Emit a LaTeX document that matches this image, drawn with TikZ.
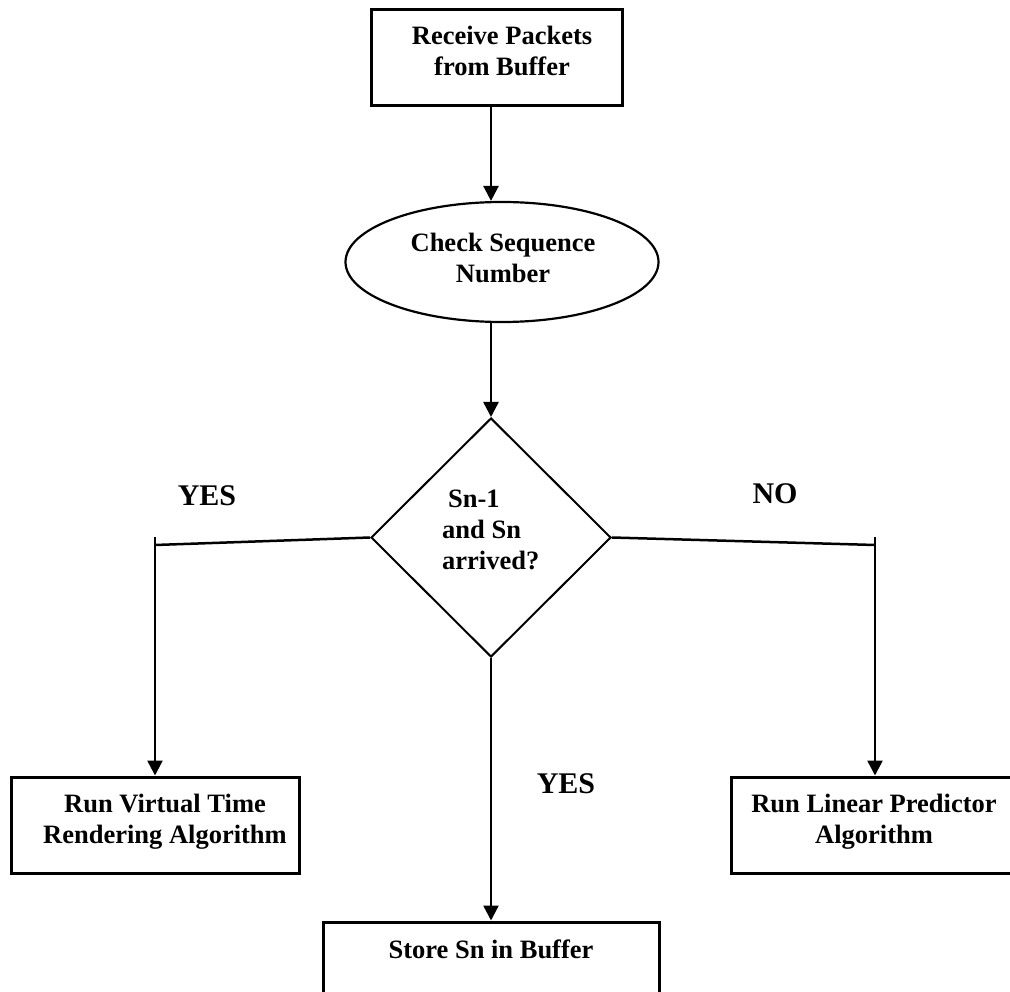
\documentclass[tikz,border=0pt]{standalone}
\usepackage{fontspec}
\setmainfont{Liberation Serif}
\usetikzlibrary{shapes.geometric,arrows.meta}

\tikzset{
  box/.style={draw, line width=3pt, rectangle, inner sep=0pt},
  oval/.style={draw, line width=2.2pt, ellipse, inner sep=0pt},
  decision/.style={draw, line width=2pt, diamond, inner sep=0pt},
  txt/.style={font=\bfseries\fontsize{26.5}{31}\selectfont, align=center, inner sep=0pt},
  lbl/.style={font=\bfseries\fontsize{30}{34}\selectfont, inner sep=0pt, anchor=base},
  link/.style={line width=2.5pt},
  arrow/.style={line width=2.5pt, -{Triangle[length=15pt,width=15pt]}},
}

\begin{document}
\begin{tikzpicture}[x=1pt, y=-1pt]
  \clip (0,0) rectangle (1010,992);
  \fill[white] (0,0) rectangle (1010,992);

  % shapes
  \node[box, minimum width=251pt, minimum height=96pt] (recv) at (496.5,58) {};
  \node[oval, minimum width=313pt, minimum height=120pt] (check) at (502,262) {};
  \node[decision, minimum width=240pt, minimum height=239pt] (dec) at (491,537.5) {};
  \node[box, minimum width=288pt, minimum height=96pt] (vtr) at (155,825) {};
  \node[box, minimum width=288pt, minimum height=96pt] (lin) at (875,825) {};
  \node[box, minimum width=336pt, minimum height=96pt] (store) at (491,970) {};

  % texts
  \node[txt] (recvT) at (502,51) {Receive Packets\\from Buffer};
  \node[txt] (checkT) at (503,258) {Check Sequence\\Number};
  \node[txt, align=left, anchor=west] (decT) at (442,530) {\hspace{6pt}Sn-1\\and Sn\\arrived?};
  \node[txt] (vtrT) at (165,822) {Run Virtual Time\\Rendering Algorithm};
  \node[txt] (linT) at (874,822) {Run Linear Predictor\\Algorithm};
  \node[txt, anchor=base] (storeT) at (491,958) {Store Sn in Buffer};

  % branch labels
  \node[lbl] (yesL) at (207,505) {YES};
  \node[lbl] (noR) at (775,503) {NO};
  \node[lbl] (yesB) at (566,793) {YES};

  % branch corners
  \coordinate (lk) at (155,545);
  \coordinate (lt) at (155,537);
  \coordinate (rk) at (875,545);
  \coordinate (rt) at (875,537);

  % connectors
  \draw[arrow] (recv.south -| dec.north) -- (check.north -| dec.north);
  \draw[arrow] (check.south -| dec.north) -- (dec.north);
  \draw[link] (dec.west) -- (lk);
  \draw[arrow] (lt) -- (vtr.north);
  \draw[link] (dec.east) -- (rk);
  \draw[arrow] (rt) -- (lin.north);
  \draw[arrow] (dec.south) -- (store.north);
\end{tikzpicture}
\end{document}
